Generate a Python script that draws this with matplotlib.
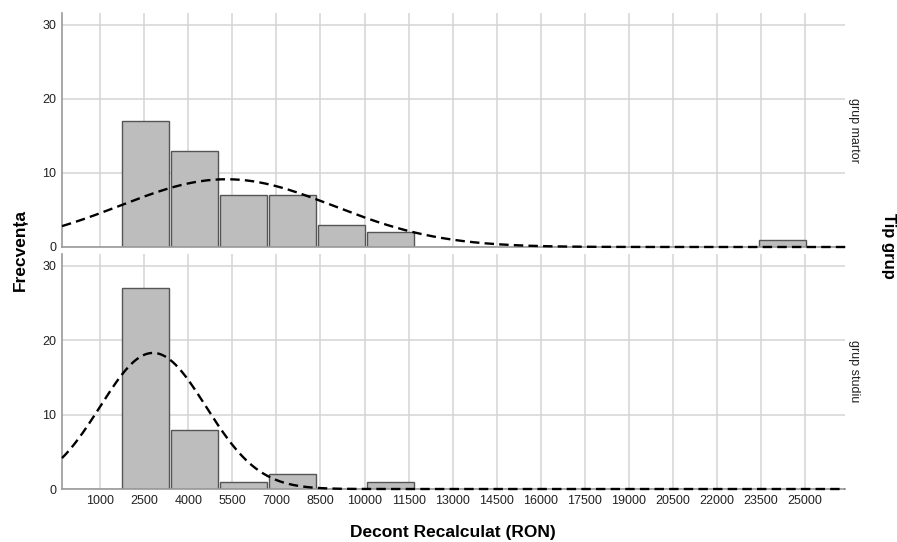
import numpy as np
import matplotlib.pyplot as plt

plt.rcParams['font.family'] = ['Liberation Sans', 'DejaVu Sans']

# histogram bins
bin_left = 1700
bin_width = 1670
counts_martor = [17, 13, 7, 7, 3, 2, 0, 0, 0, 0, 0, 0, 0, 1]
counts_studiu = [27, 8, 1, 2, 0, 1, 0, 0, 0, 0, 0, 0, 0, 0]

# fitted normal curves: mean, sd, peak height
curve_martor = (5300, 3650, 9.15)
curve_studiu = (2800, 1800, 18.3)

tick_values = list(range(1000, 25001, 1500))
panel_labels = ['grup martor', 'grup studiu']

xlim = (-300, 26360)
ylim = (0, 31.6)

fig = plt.figure(figsize=(8.97, 5.42), dpi=100)
ax_top = fig.add_axes([62/897, 1-247/542, 783/897, 234/542])
ax_bot = fig.add_axes([62/897, 1-489/542, 783/897, 235/542])

edges = bin_left + bin_width * np.arange(len(counts_martor))
centers = edges + bin_width / 2

for ax, counts, curve, lab in zip([ax_top, ax_bot], [counts_martor, counts_studiu],
                                  [curve_martor, curve_studiu], panel_labels):
    ax.set_xlim(xlim)
    ax.set_ylim(ylim)
    ax.set_xticks(tick_values)
    ax.set_yticks([0, 10, 20, 30])
    ax.grid(True, color='#d4d4d4', linewidth=1.1, zorder=0)
    ax.set_axisbelow(True)
    for s in ['top', 'right']:
        ax.spines[s].set_visible(False)
    for s in ['left', 'bottom']:
        ax.spines[s].set_color('#9a9a9a')
        ax.spines[s].set_linewidth(1.2)
    ax.tick_params(length=0, labelsize=9, colors='#222222', pad=4)

    heights = np.array(counts)
    mask = heights > 0
    ax.bar(centers[mask], heights[mask], width=bin_width * 0.955,
           color='#bdbdbd', edgecolor='#555555', linewidth=1.0, zorder=2)

    mu, sd, peak = curve
    xs = np.linspace(xlim[0], xlim[1], 600)
    ys = peak * np.exp(-0.5 * ((xs - mu) / sd) ** 2)
    ax.plot(xs, ys, color='black', linewidth=1.7, dashes=(4, 2.2), zorder=3, clip_on=False)

    ax.text(1.012, 0.5, lab, transform=ax.transAxes, rotation=-90,
            ha='center', va='center', fontsize=9, color='#222222')

ax_top.tick_params(labelbottom=False)

fig.text(20/897, 1-250/542, 'Frecvența', rotation=90, ha='center', va='center',
         fontsize=12.5, fontweight='bold')
fig.text(888/897, 1-246/542, 'Tip grup', rotation=-90, ha='center', va='center',
         fontsize=12, fontweight='bold')
fig.text(453/897, 1-533/542, 'Decont Recalculat (RON)', ha='center', va='center',
         fontsize=12.5, fontweight='bold')

fig.savefig('out.png', dpi=100)
